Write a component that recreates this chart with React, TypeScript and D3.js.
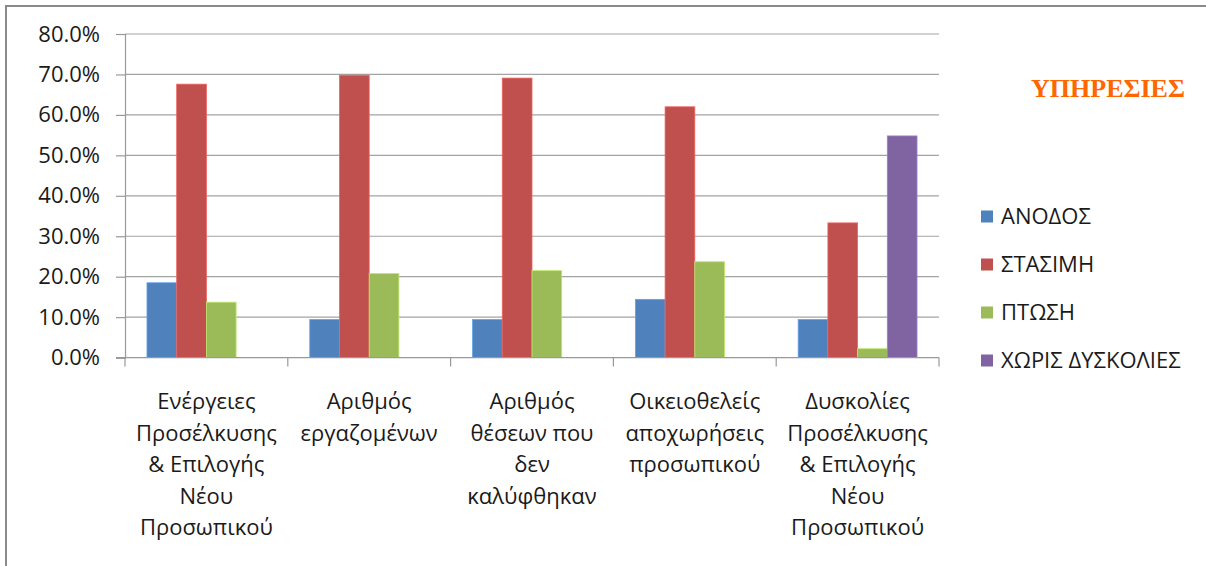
import React from "react";
import * as d3 from "d3";

// category labels (line breaks as in the original)
const categories = [
  "Ενέργειες\nΠροσέλκυσης\n& Επιλογής\nΝέου\nΠροσωπικού",
  "Αριθμός\nεργαζομένων",
  "Αριθμός\nθέσεων που\nδεν\nκαλύφθηκαν",
  "Οικειοθελείς\nαποχωρήσεις\nπροσωπικού",
  "Δυσκολίες\nΠροσέλκυσης\n& Επιλογής\nΝέου\nΠροσωπικού",
];
const seriesNames = ["ΑΝΟΔΟΣ", "ΣΤΑΣΙΜΗ", "ΠΤΩΣΗ", "ΧΩΡΙΣ ΔΥΣΚΟΛΙΕΣ"];
const seriesColors = ["#4F81BD", "#C0504D", "#9BBB59", "#8064A2"];
const anodos = [18.5, 9.4, 9.4, 14.4, 9.4];
const stasimi = [67.6, 69.8, 69.1, 62.0, 33.3];
const ptosi = [13.7, 20.8, 21.5, 23.7, 2.2];
const xorisDyskolies = [0, 0, 0, 0, 54.8];
const yTicks = [0, 10, 20, 30, 40, 50, 60, 70, 80];
const title = "ΥΠΗΡΕΣΙΕΣ";

const W = 1206;
const H = 566;
const FONT = "'Open Sans', sans-serif";

const App = () => {
  const svgRef = React.useRef<SVGSVGElement>(null);

  React.useEffect(() => {
    const values = [anodos, stasimi, ptosi, xorisDyskolies];
    const plot = { left: 125, right: 939, top: 34, bottom: 357.6 };

    const x0 = d3.scaleBand<string>()
      .domain(categories)
      .range([plot.left, plot.right])
      .padding(0);
    const x1 = d3.scaleBand<string>()
      .domain(seriesNames)
      .range([0, x0.bandwidth()])
      .paddingInner(0)
      .paddingOuter(0.74);
    const y = d3.scaleLinear().domain([0, 80]).range([plot.bottom, plot.top]);

    const svgEl = d3.select(svgRef.current);
    svgEl.selectAll("*").remove();
    const svg = svgEl.append("g");

    // outer frame (only top/left visible in the crop)
    svg.append("rect")
      .attr("x", 6).attr("y", 6)
      .attr("width", W + 40).attr("height", H + 40)
      .attr("fill", "white")
      .attr("stroke", "#8a8a8a")
      .attr("stroke-width", 2);

    // gridlines
    svg.append("g")
      .selectAll("line")
      .data(yTicks.slice(1))
      .enter()
      .append("line")
      .attr("x1", plot.left).attr("x2", plot.right)
      .attr("y1", (d) => y(d)).attr("y2", (d) => y(d))
      .attr("stroke", "#a3a3a3")
      .attr("stroke-width", 1.2);

    // y axis
    const yAxis = d3.axisLeft(y)
      .tickValues(yTicks)
      .tickSize(9)
      .tickPadding(16)
      .tickFormat((v) => `${(+v).toFixed(1)}%`);
    const yAxisGroup = svg.append("g")
      .attr("transform", `translate(${plot.left},0)`)
      .call(yAxis);
    yAxisGroup.select(".domain").attr("stroke", "#999").attr("stroke-width", 1.2);
    yAxisGroup.selectAll("line").attr("stroke", "#999").attr("stroke-width", 1.2);
    yAxisGroup.selectAll("text")
      .attr("fill", "#1a1a1a")
      .attr("font-family", FONT)
      .attr("font-size", 22);

    // bars
    const groups = svg.append("g")
      .selectAll("g")
      .data(categories)
      .enter()
      .append("g")
      .attr("transform", (d) => `translate(${x0(d)},0)`);
    groups.selectAll("rect")
      .data((_, ci) => seriesNames.map((s, si) => ({ s, si, v: values[si][ci] })))
      .enter()
      .filter((d) => d.v > 0)
      .append("rect")
      .attr("x", (d) => x1(d.s) as number)
      .attr("width", x1.bandwidth())
      .attr("y", (d) => y(d.v))
      .attr("height", (d) => plot.bottom - y(d.v))
      .attr("fill", (d) => seriesColors[d.si])
      .attr("stroke", (d) => d3.color(seriesColors[d.si])!.brighter(0.6).toString())
      .attr("stroke-width", 0.8);

    // x axis line + category ticks
    svg.append("line")
      .attr("x1", plot.left - 9).attr("x2", plot.right)
      .attr("y1", plot.bottom).attr("y2", plot.bottom)
      .attr("stroke", "#999").attr("stroke-width", 1.2);
    const bounds = categories.map((c) => x0(c) as number).concat([plot.right]);
    svg.append("g")
      .selectAll("line")
      .data(bounds)
      .enter()
      .append("line")
      .attr("x1", (d) => d).attr("x2", (d) => d)
      .attr("y1", plot.bottom).attr("y2", plot.bottom + 9)
      .attr("stroke", "#999").attr("stroke-width", 1.2);

    // category labels
    const labels = svg.append("g")
      .selectAll("text")
      .data(categories)
      .enter()
      .append("text")
      .attr("text-anchor", "middle")
      .attr("font-family", FONT)
      .attr("font-size", 22)
      .attr("fill", "#1a1a1a");
    labels.each(function (d) {
      const t = d3.select(this);
      const cx = (x0(d) as number) + x0.bandwidth() / 2;
      d.split("\n").forEach((line, i) => {
        t.append("tspan")
          .attr("x", cx)
          .attr("y", 409 + i * 31.5)
          .text(line);
      });
    });

    // title
    svg.append("text")
      .attr("x", 1108)
      .attr("y", 97)
      .attr("text-anchor", "middle")
      .attr("font-family", "'Liberation Serif', 'Times New Roman', serif")
      .attr("font-weight", "bold")
      .attr("font-size", 26)
      .attr("fill", "#FF6600")
      .text(title);

    // legend
    const legend = svg.append("g")
      .selectAll("g")
      .data(seriesNames)
      .enter()
      .append("g")
      .attr("transform", (_, i) => `translate(981,${216.5 + i * 48})`);
    legend.append("rect")
      .attr("x", 0).attr("y", -6)
      .attr("width", 12).attr("height", 12)
      .attr("fill", (_, i) => seriesColors[i]);
    legend.append("text")
      .attr("x", 20)
      .attr("dy", "0.35em")
      .attr("font-family", FONT)
      .attr("font-size", 22)
      .attr("fill", "#1a1a1a")
      .text((d) => d);
  }, []);

  return (
    <svg
      ref={svgRef}
      width={W}
      height={H}
      style={{ position: "absolute", left: 0, top: 0, display: "block", background: "white" }}
    />
  );
};

export default App;
